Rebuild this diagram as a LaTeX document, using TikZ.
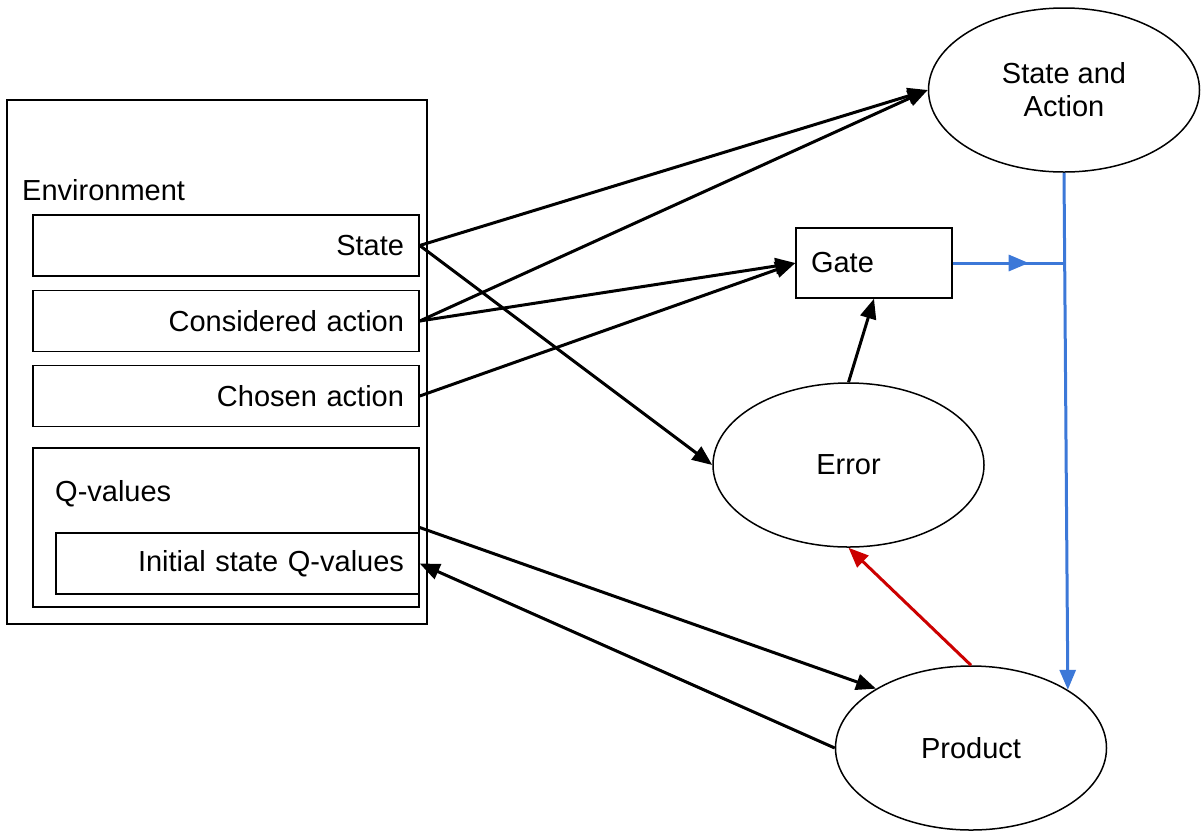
\documentclass[tikz,border=0pt]{standalone}
\usepackage{fontspec}
\setmainfont{Liberation Sans}
\usetikzlibrary{arrows.meta,shapes.geometric,decorations.markings}
\definecolor{lineblue}{HTML}{3C78D8}
\definecolor{linered}{HTML}{CC0000}
\tikzset{
  tip/.style={-{Triangle[length=20pt,width=16pt]}},
  conn/.style={line width=3pt, tip},
  box/.style={draw, line width=1.4pt, rectangle, inner sep=0pt},
  fieldbox/.style={box, minimum height=61pt, inner ysep=0pt, inner xsep=15pt, align=right},
  oval/.style={draw, ellipse, line width=1.5pt, minimum width=271pt, minimum height=164pt, inner sep=0pt, align=center},
  lbl/.style={inner sep=0pt, anchor=west},
  blueline/.style={line width=3pt, draw=lineblue},
}
\begin{document}
\begin{tikzpicture}[x=1pt, y=-1pt, font=\fontsize{29}{33}\selectfont]
\useasboundingbox (0,0) rectangle (1201,831);

% Environment
\node[box, minimum width=420pt, minimum height=524pt] (env) at (217,362) {};
\node[lbl] (envlabel) at (22,190) {Environment};
\node[fieldbox, text width=356pt] (state) at (226,245.5) {State};
\node[fieldbox, text width=356pt] (cons) at (226,321) {Considered action};
\node[fieldbox, text width=356pt] (chosen) at (226,396) {Chosen action};
\node[box, minimum width=386pt, minimum height=159pt] (qbox) at (226,527.5) {};
\node[lbl] (qlabel) at (55,494) {Q-values};
\node[fieldbox, text width=333pt] (init) at (237.5,563.5) {Initial state Q-values};

% Right side
\node[oval] (sa) at (1064,90) {State and\\Action};
\node[box, minimum height=70pt, text width=126pt, inner xsep=15pt, align=left] (gate) at (874,263) {Gate};
\node[oval] (err) at (848.5,465) {Error};
\node[oval] (prod) at (971,748) {Product};

% Black connectors
\draw[conn] (state.east) -- (sa.west);
\draw[conn] (cons.east) -- (sa.west);
\draw[conn] (cons.east) -- (gate.west);
\draw[conn] (chosen.east) -- (gate.west);
\draw[conn] (state.east) -- (err.west);
\draw[conn] (err.north) -- (gate.south);
\draw[conn] (qbox.east) -- (prod.148);
\draw[conn] (prod.west) -- (init.east);

% Red connector
\draw[conn, draw=linered, fill=linered] (prod.north) -- (err.south);

% Blue connectors
\coordinate (junc) at (1064.5,263);
\draw[blueline, tip, fill=lineblue] (sa.south) -- (prod.31);
\draw[blueline, postaction={decorate},
  decoration={markings, mark=at position 0.68 with {\arrow[fill=lineblue]{Triangle[length=20pt,width=16pt]}}}]
  (gate.east) -- (junc);
\end{tikzpicture}
\end{document}
